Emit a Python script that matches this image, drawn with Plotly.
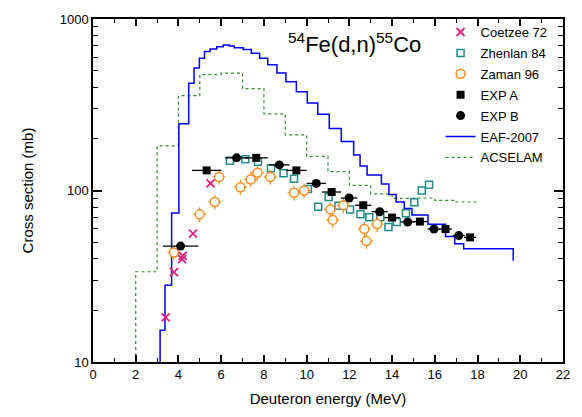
import plotly.graph_objects as go

# ---------------- data ----------------
eaf_edges = [3.14, 3.37, 3.68, 4.02, 4.48, 4.73, 4.98, 5.22, 5.48, 5.79,
             6.10, 6.38, 6.61, 7.03, 7.41, 7.80, 8.18, 8.61, 9.03, 9.52,
             10.03, 10.52, 11.06, 11.62, 12.20, 12.50, 12.83, 13.50, 13.85, 14.19,
             14.57, 14.93, 15.68, 16.50, 16.93, 17.35, 19.67]
eaf_vals = [15.3, 28, 74, 245, 422, 518, 591, 646, 668, 689,
            705, 695, 680, 665, 631, 591, 541, 485, 431, 376,
            324, 278, 230, 193, 161, 139, 123, 109, 94.8, 85.8,
            78.5, 71.9, 63.5, 54, 49, 45.8]
eaf_end = 38.9

acs_edges = [2, 3, 4, 5, 6, 7, 8, 9, 10, 11, 12, 13, 14, 15, 16, 17, 18]
acs_vals = [33.6, 182, 357, 474, 483, 393, 280, 211, 158, 129, 107, 95.5, 90, 90.4, 87.7, 85.7]

coe_E = [3.40, 3.79, 4.17, 4.20, 4.68, 5.50]
coe_s = [18.2, 33.4, 39.8, 41.6, 56.1, 110]

zhe_E = [6.41, 7.13, 7.72, 8.33, 8.92, 9.41, 10.06, 10.54, 11.03, 11.49,
         12.03, 12.52, 12.93, 13.45, 13.83, 14.22, 14.65, 15.04, 15.39, 15.73]
zhe_s = [149, 152, 147, 135, 126, 117, 102, 80.3, 91.6, 81.4,
         77.6, 72.6, 69.8, 69.8, 61.2, 65.6, 73.6, 85.5, 100, 108]

zam_E = [3.79, 4.99, 5.70, 5.90, 6.90, 7.38, 7.70, 8.30, 9.41, 9.88,
         11.11, 11.22, 11.72, 12.70, 12.80, 13.30]
zam_s = [43.5, 72.6, 85.7, 120, 104.5, 116, 127, 120, 97, 100,
         77.6, 67.4, 82, 59.6, 50.7, 63.7]
zam_xerr = [0.3] * len(zam_E)
zam_yerr_pct = 10

expA_E = [5.32, 7.64, 9.52, 11.17, 12.65, 14.0, 15.3, 16.5, 17.65]
expA_s = [131, 155, 131, 98, 82, 69.5, 65.9, 59.6, 53.3]
expA_xerr = [0.69, 0.54, 0.48, 0.45, 0.38, 0.36, 0.35, 0.30, 0.28]

expB_E = [4.10, 6.72, 8.72, 10.45, 11.99, 13.42, 14.73, 15.96, 17.12]
expB_s = [47.4, 155, 141, 110, 90.4, 75.2, 65.5, 59.6, 54.6]
expB_xerr = [0.83, 0.54, 0.48, 0.45, 0.39, 0.38, 0.33, 0.30, 0.28]

x_major = [0, 2, 4, 6, 8, 10, 12, 14, 16, 18, 20, 22]
x_minor = [1, 3, 5, 7, 9, 11, 13, 15, 17, 19, 21]
y_major = [10, 100, 1000]
y_minor = [m * d for d in (10, 100) for m in range(2, 10)]

# ---------------- build step lines ----------------
eaf_x = [eaf_edges[0]] + eaf_edges[:-1] + [eaf_edges[-1], eaf_edges[-1]]
eaf_y = [10] + eaf_vals + [eaf_vals[-1], eaf_end]
acs_x = [acs_edges[0]] + acs_edges[:-1] + [acs_edges[-1]]
acs_y = [10] + acs_vals + [acs_vals[-1]]

FONT = "Liberation Sans, Arial, sans-serif"
fig = go.Figure()

fig.add_trace(go.Scatter(x=acs_x, y=acs_y, mode="lines", name="ACSELAM",
                         line=dict(color="#2e8b2e", width=1.2, dash="dot", shape="hv"),
                         legendgroup="g7", legendrank=7))
fig.add_trace(go.Scatter(x=eaf_x, y=eaf_y, mode="lines", name="EAF-2007",
                         line=dict(color="#0000ff", width=1.5, shape="hv"),
                         legendgroup="g6", legendrank=6))

fig.add_trace(go.Scatter(x=zhe_E, y=zhe_s, mode="markers", name="Zhenlan 84",
                         marker=dict(symbol="square-open", size=7, color="#1f8b8b",
                                     line=dict(width=1.5, color="#1f8b8b")),
                         legendgroup="g2", legendrank=2))
fig.add_trace(go.Scatter(x=zam_E, y=zam_s, mode="markers", name="Zaman 96",
                         marker=dict(symbol="circle", size=9, color="white",
                                     line=dict(width=1.5, color="#ff8c1a")),
                         error_x=dict(type="data", array=zam_xerr, color="#ff8c1a",
                                      thickness=1.2, width=0),
                         error_y=dict(type="percent", value=zam_yerr_pct, color="#ff8c1a",
                                      thickness=1.2, width=0),
                         legendgroup="g3", legendrank=3))
fig.add_trace(go.Scatter(x=coe_E, y=coe_s, mode="markers", name="Coetzee 72",
                         marker=dict(symbol="x-thin-open", size=8, color="#e8207f",
                                     line=dict(width=1.8, color="#e8207f")),
                         legendgroup="g1", legendrank=1))
fig.add_trace(go.Scatter(x=expA_E, y=expA_s, mode="markers", name="EXP A",
                         marker=dict(symbol="square", size=8, color="black"),
                         error_x=dict(type="data", array=expA_xerr, color="black",
                                      thickness=1.3, width=0),
                         legendgroup="g4", legendrank=4))
fig.add_trace(go.Scatter(x=expB_E, y=expB_s, mode="markers", name="EXP B",
                         marker=dict(symbol="circle", size=9, color="black"),
                         error_x=dict(type="data", array=expB_xerr, color="black",
                                      thickness=1.3, width=0),
                         legendgroup="g5", legendrank=5))

fig.add_annotation(text="<sup>54</sup>Fe(d,n)<sup>55</sup>Co", xref="paper", yref="paper",
                   x=(288 - 93) / 476, y=(365 - 40) / 350, xanchor="left", yanchor="middle",
                   showarrow=False, font=dict(family=FONT, size=22, color="black"))

fig.update_layout(
    width=582, height=417,
    margin=dict(l=93, r=13, t=15, b=52),
    paper_bgcolor="white", plot_bgcolor="white",
    font=dict(family=FONT, size=13, color="black"),
    showlegend=True,
    legend=dict(x=(445 - 93) / 476, y=(365 - 13) / 350, xanchor="left", yanchor="top",
                bgcolor="rgba(0,0,0,0)", font=dict(family=FONT, size=13),
                tracegroupgap=1, itemwidth=30),
    xaxis=dict(range=[0, 22], tickvals=x_major, ticks="inside", ticklen=7, tickwidth=1.5,
               tickcolor="black", showline=True, linecolor="black", linewidth=1.5,
               mirror="allticks", showgrid=False, zeroline=False,
               minor=dict(tickvals=x_minor, ticks="inside", ticklen=4, tickwidth=1.2,
                          tickcolor="black", showgrid=False),
               tickfont=dict(size=13),
               title=dict(text="Deuteron energy (MeV)", font=dict(size=15), standoff=12)),
    yaxis=dict(type="log", range=[1, 3], tickvals=y_major, ticktext=["10", "100", "1000"],
               ticks="inside", ticklen=9, tickwidth=1.5, tickcolor="black",
               showline=True, linecolor="black", linewidth=1.5, mirror="allticks",
               showgrid=False, zeroline=False,
               minor=dict(tickvals=y_minor, ticks="inside", ticklen=5, tickwidth=1.2,
                          tickcolor="black", showgrid=False),
               tickfont=dict(size=13),
               title=dict(text="Cross section (mb)", font=dict(size=15), standoff=22)),
)

fig.write_html("out.html")
